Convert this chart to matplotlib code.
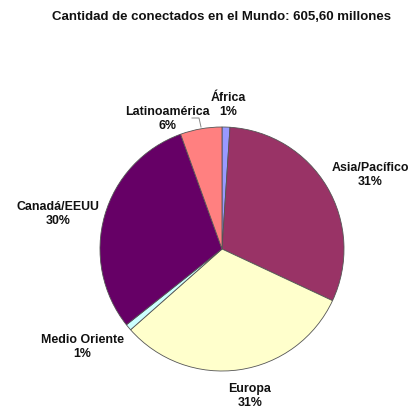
import matplotlib.pyplot as plt

plt.rcParams['font.family'] = ['Liberation Sans', 'DejaVu Sans']

regiones = ['África', 'Asia/Pacífico', 'Europa', 'Medio Oriente', 'Canadá/EEUU', 'Latinoamérica']
millones = [6.31, 187.24, 190.91, 5.12, 182.67, 33.35]
porcentajes = ['1%', '31%', '31%', '1%', '30%', '6%']
colores = ['#9999FF', '#993366', '#FFFFCC', '#CCFFFF', '#660066', '#FF8080']

# posiciones de las etiquetas (pixeles de la imagen, y hacia abajo)
pos_etiquetas = [(228, 105), (370, 175), (250, 396), (82, 347), (58, 214), (167, 119)]

W, H = 416, 410
fig = plt.figure(figsize=(W / 100, H / 100), dpi=100)
ax = fig.add_axes([0, 0, 1, 1])

ax.pie(millones, colors=colores, startangle=90, counterclock=False,
       center=(222, H - 250), radius=122,
       wedgeprops=dict(edgecolor='#555555', linewidth=0.6))

ax.set_xlim(0, W)
ax.set_ylim(0, H)
ax.set_aspect('equal')
ax.axis('off')

for nombre, pct, (x, y) in zip(regiones, porcentajes, pos_etiquetas):
    ax.text(x, H - y, nombre + '\n' + pct, ha='center', va='center',
            fontsize=8.9, fontweight='bold', color='#111111', linespacing=1.2)

# linea guia de Latinoamerica
ax.plot([192, 199, 201], [H - 119, H - 119, H - 128], color='#888888', lw=0.7)

fig.text(222 / W, 1 - 17 / H, 'Cantidad de conectados en el Mundo: 605,60 millones',
         ha='center', va='center', fontsize=9.5, fontweight='bold', color='#111111')

plt.savefig('out.png', dpi=100)
